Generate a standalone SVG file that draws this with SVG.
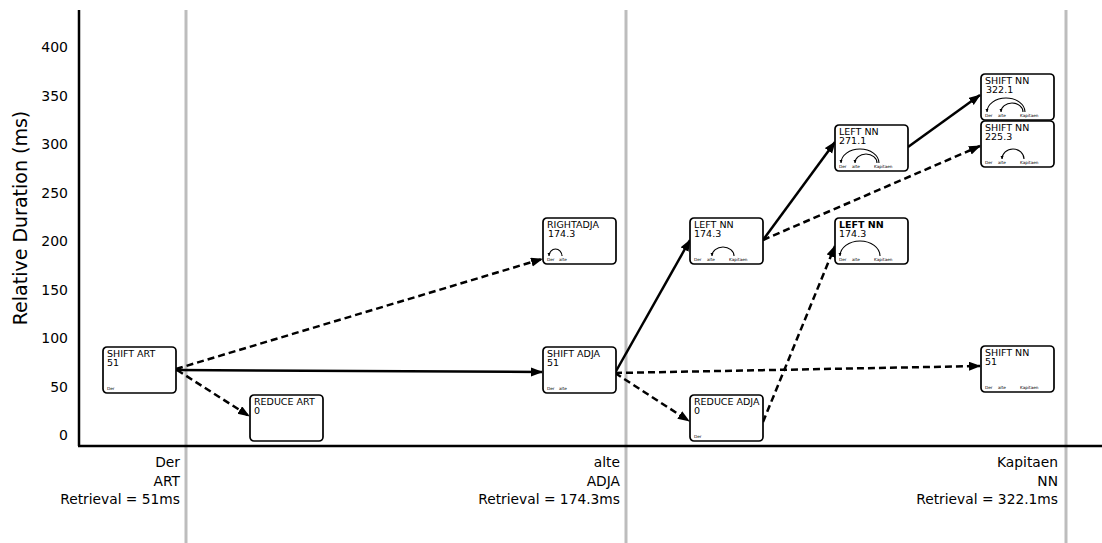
<svg xmlns="http://www.w3.org/2000/svg" width="1102" height="543" viewBox="0 0 1102 543">
<style>
text{font-family:"DejaVu Sans","Liberation Sans",sans-serif;fill:#000}
.tick{font-size:14px;text-anchor:end}
.ylab{font-size:19px;text-anchor:middle}
.xl{font-size:13.8px;text-anchor:end}
.grid{stroke:#bdbdbd;stroke-width:3}
.axis{stroke:#000;stroke-width:2.5}
.box{fill:#fff;stroke:#000;stroke-width:1.7}
.t{font-size:9.5px}
.w{font-size:4.2px}
.arc{fill:none;stroke:#000;stroke-width:1.1}
.c{fill:none;stroke:#000;stroke-width:2.5}
.d{stroke-dasharray:7 4}
</style>
<defs>
<marker id="ah" markerUnits="userSpaceOnUse" markerWidth="12" markerHeight="10" refX="11" refY="4.5" orient="auto">
<path d="M0,0 L12,4.5 L0,9 z" fill="#000"/>
</marker>
<marker id="sa" markerUnits="userSpaceOnUse" markerWidth="4" markerHeight="4" refX="3" refY="1.5" orient="auto">
<path d="M0,0 L3,1.5 L0,3 z" fill="#000"/>
</marker>
</defs>
<rect width="1102" height="543" fill="#fff"/>
<g id="grid">
<line class="grid" x1="186" y1="10" x2="186" y2="543"/>
<line class="grid" x1="626" y1="10" x2="626" y2="543"/>
<line class="grid" x1="1066" y1="10" x2="1066" y2="543"/>
</g>
<g id="axes">
<line class="axis" x1="79" y1="10" x2="79" y2="446"/>
<line class="axis" x1="78" y1="446" x2="1102" y2="446"/>
<text class="tick" x="68" y="440">0</text>
<text class="tick" x="68" y="391.5">50</text>
<text class="tick" x="68" y="343">100</text>
<text class="tick" x="68" y="294.5">150</text>
<text class="tick" x="68" y="246">200</text>
<text class="tick" x="68" y="197.5">250</text>
<text class="tick" x="68" y="149">300</text>
<text class="tick" x="68" y="100.5">350</text>
<text class="tick" x="68" y="52">400</text>
<text class="ylab" transform="translate(27,218) rotate(-90)">Relative Duration (ms)</text>
<text class="xl" x="180" y="467">Der</text>
<text class="xl" x="180" y="486">ART</text>
<text class="xl" x="180" y="504">Retrieval = 51ms</text>
<text class="xl" x="620" y="467">alte</text>
<text class="xl" x="620" y="486">ADJA</text>
<text class="xl" x="620" y="504">Retrieval = 174.3ms</text>
<text class="xl" x="1058" y="467">Kapitaen</text>
<text class="xl" x="1058" y="486">NN</text>
<text class="xl" x="1058" y="504">Retrieval = 322.1ms</text>
</g>
<g id="connectors">
<line class="c d" x1="176" y1="369" x2="542" y2="259" marker-end="url(#ah)"/>
<line class="c" x1="176" y1="370" x2="542" y2="372" marker-end="url(#ah)"/>
<line class="c d" x1="177" y1="370" x2="249" y2="416" marker-end="url(#ah)"/>
<line class="c" x1="615" y1="373" x2="690" y2="240" marker-end="url(#ah)"/>
<line class="c d" x1="615" y1="373" x2="689" y2="421" marker-end="url(#ah)"/>
<line class="c d" x1="615" y1="373" x2="980" y2="366" marker-end="url(#ah)"/>
<line class="c d" x1="763" y1="422" x2="835" y2="246" marker-end="url(#ah)"/>
<line class="c" x1="763" y1="240" x2="835" y2="142" marker-end="url(#ah)"/>
<line class="c d" x1="763" y1="240" x2="980" y2="146" marker-end="url(#ah)"/>
<line class="c" x1="908" y1="147" x2="980" y2="95" marker-end="url(#ah)"/>
</g>
<g id="shift-art" transform="translate(103,347)">
<rect class="box" width="73" height="46" rx="4"/>
<text class="t" x="4" y="10">SHIFT ART</text><text class="t" x="4" y="19">51</text>
<text class="w" x="4" y="42.5">Der</text>
</g>
<g id="reduce-art" transform="translate(250,395)">
<rect class="box" width="73" height="46" rx="4"/>
<text class="t" x="4" y="10">REDUCE ART</text><text class="t" x="4" y="19">0</text>
</g>
<g id="rightadja" transform="translate(543,218)">
<rect class="box" width="73" height="46" rx="4"/>
<text class="t" x="4" y="10">RIGHTADJA</text><text class="t" x="5" y="19">174.3</text>
<text class="w" x="4" y="42.5">Der</text><text class="w" x="16" y="42.5">alte</text>
<path class="arc" d="M19,38 A6.5,7 0 0 0 6,38" marker-end="url(#sa)"/>
</g>
<g id="shift-adja" transform="translate(543,347)">
<rect class="box" width="73" height="46" rx="4"/>
<text class="t" x="4" y="10">SHIFT ADJA</text><text class="t" x="4" y="19">51</text>
<text class="w" x="4" y="42.5">Der</text><text class="w" x="16" y="42.5">alte</text>
</g>
<g id="left-nn-174" transform="translate(690,218)">
<rect class="box" width="73" height="46" rx="4"/>
<text class="t" x="4" y="10">LEFT NN</text><text class="t" x="4" y="19">174.3</text>
<text class="w" x="4" y="42.5">Der</text><text class="w" x="17" y="42.5">alte</text><text class="w" x="39" y="42.5">Kapitaen</text>
<path class="arc" d="M44,38 A11,9 0 0 0 22,38" marker-end="url(#sa)"/>
</g>
<g id="reduce-adja" transform="translate(690,395)">
<rect class="box" width="73" height="46" rx="4"/>
<text class="t" x="4" y="10">REDUCE ADJA</text><text class="t" x="4" y="19">0</text>
<text class="w" x="4" y="42.5">Der</text>
</g>
<g id="left-nn-271" transform="translate(835,125)">
<rect class="box" width="73" height="46" rx="4"/>
<text class="t" x="4" y="10">LEFT NN</text><text class="t" x="4" y="19">271.1</text>
<text class="w" x="4" y="42.5">Der</text><text class="w" x="17" y="42.5">alte</text><text class="w" x="39" y="42.5">Kapitaen</text>
<path class="arc" d="M44,38 A19,14 0 0 0 6,38" marker-end="url(#sa)"/>
<path class="arc" d="M42,38 A11,9 0 0 0 20,38" marker-end="url(#sa)"/>
</g>
<g id="left-nn-174b" transform="translate(835,218)">
<rect class="box" width="73" height="46" rx="4"/>
<text class="t" x="4" y="10" font-weight="bold">LEFT NN</text><text class="t" x="4" y="19">174.3</text>
<text class="w" x="4" y="42.5">Der</text><text class="w" x="17" y="42.5">alte</text><text class="w" x="39" y="42.5">Kapitaen</text>
<path class="arc" d="M45,38 A20,15 0 0 0 5,38" marker-end="url(#sa)"/>
</g>
<g id="shift-nn-322" transform="translate(981,74)">
<rect class="box" width="73" height="46" rx="4"/>
<text class="t" x="4" y="10">SHIFT NN</text><text class="t" x="5" y="19">322.1</text>
<text class="w" x="4" y="42.5">Der</text><text class="w" x="17" y="42.5">alte</text><text class="w" x="39" y="42.5">Kapitaen</text>
<path class="arc" d="M44,38 A19,14 0 0 0 6,38" marker-end="url(#sa)"/>
<path class="arc" d="M42,38 A11,9 0 0 0 20,38" marker-end="url(#sa)"/>
</g>
<g id="shift-nn-225" transform="translate(981,121)">
<rect class="box" width="73" height="46" rx="4"/>
<text class="t" x="4" y="10">SHIFT NN</text><text class="t" x="4" y="19">225.3</text>
<text class="w" x="4" y="42.5">Der</text><text class="w" x="17" y="42.5">alte</text><text class="w" x="39" y="42.5">Kapitaen</text>
<path class="arc" d="M43,38 A11,10 0 0 0 21,38" marker-end="url(#sa)"/>
</g>
<g id="shift-nn-51" transform="translate(981,346)">
<rect class="box" width="73" height="46" rx="4"/>
<text class="t" x="4" y="10">SHIFT NN</text><text class="t" x="4" y="19">51</text>
<text class="w" x="4" y="42.5">Der</text><text class="w" x="17" y="42.5">alte</text><text class="w" x="39" y="42.5">Kapitaen</text>
</g>
</svg>
